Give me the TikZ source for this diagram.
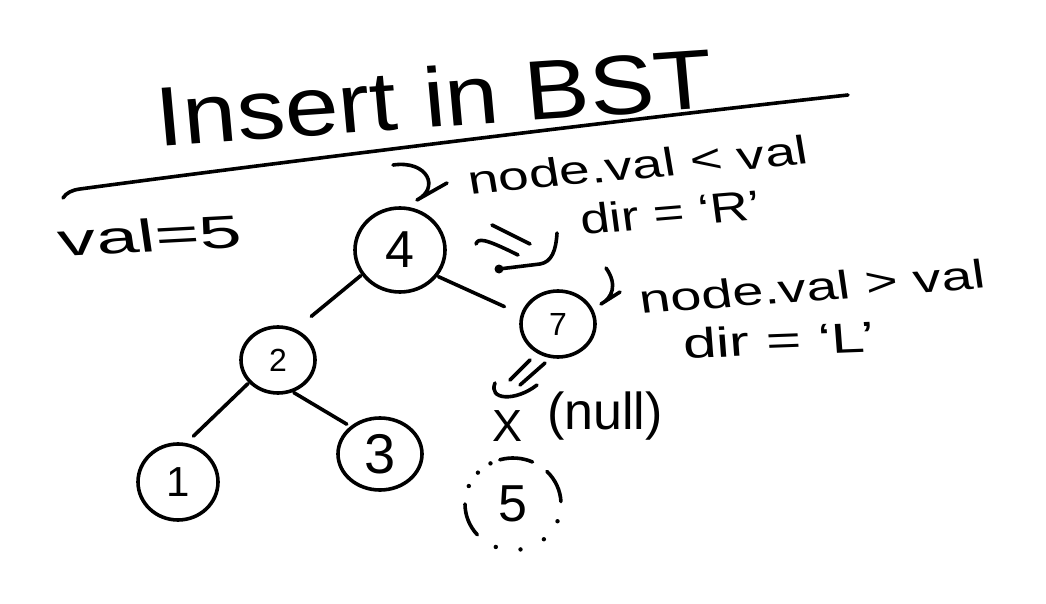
\documentclass[tikz,border=0pt]{standalone}
\usepackage{fontspec}
\setmainfont{Liberation Sans}
\usetikzlibrary{shapes.geometric}
\newcommand{\hfs}[1]{\fontsize{#1}{#1}\selectfont}
\begin{document}
\begin{tikzpicture}[x=1pt,y=-1pt, line width=3.6pt, line cap=round, line join=round,
  tnode/.style={ellipse, draw, inner sep=0pt},
  treeedge/.style={shorten <=1pt},
  lbl/.style={inner sep=0pt, anchor=base},
  dotmark/.style={fill, radius=2.2pt}]
\useasboundingbox[fill=white] (0,0) rectangle (1046,604);

% title and rule
\node[lbl, font=\hfs{84}, xscale=1.15, rotate=4.5] (title) at (437,127) {Insert in BST};
\draw (63,198) .. controls (66,193) and (72,190) .. (80,189)
      .. controls (235,168) and (620,120) .. (848,95);

% value to insert
\node[lbl, font=\hfs{46}, xscale=1.65, rotate=5] (v) at (152,252) {val=5};

% tree nodes
\node[tnode, minimum width=90pt, minimum height=84pt, font=\hfs{52}] (n4) at (400,250) {4};
\node[tnode, minimum width=74pt, minimum height=66pt, font=\hfs{32}] (n2) at (278,360) {2};
\node[tnode, minimum width=80pt, minimum height=76pt, font=\hfs{42}] (n1) at (178,482) {1};
\node[tnode, minimum width=84pt, minimum height=72pt, font=\hfs{56}] (n3) at (380,454) {3};
\node[tnode, minimum width=74pt, minimum height=66pt, font=\hfs{32}] (n7) at (558,324) {7};
\node[ellipse, inner sep=0pt, minimum width=96pt, minimum height=92pt, font=\hfs{52}] (n5) at (513,504) {5};

% dotted outline of the new node 5 (angles clockwise from east on the page)
\draw ([shift={(-45:48 and 46)}]n5.center) arc[start angle=-45, end angle=-3, x radius=48, y radius=46];
\draw ([shift={(-106:48 and 46)}]n5.center) arc[start angle=-106, end angle=-66, x radius=48, y radius=46];
\draw ([shift={(138:48 and 46)}]n5.center) arc[start angle=138, end angle=180, x radius=48, y radius=46];
\foreach \a in {-118,-137,-157,111,81,50,22}
  \fill ([shift={(\a:48 and 46)}]n5.center) circle (2.2pt);

% tree edges
\draw[treeedge, shorten >=20pt] (n4.213) -- (n2.60);
\draw[treeedge, shorten >=18pt] (n4.325) -- (n7.165);
\draw[treeedge, shorten >=10pt] (n2.218) -- (n1.78);
\draw[treeedge, shorten >=4pt] (n2.295) -- (n3.137);

% annotations
\node[lbl, font=\hfs{40}, xscale=1.38, rotate=7] (c1) at (640,179) {node.val < val};
\node[lbl, font=\hfs{42}, xscale=1.26, rotate=6] (d1) at (672,227) {dir = ‘R’};
\node[lbl, font=\hfs{40}, xscale=1.4, rotate=6] (c2) at (814,301) {node.val > val};
\node[lbl, font=\hfs{42}, xscale=1.43, rotate=3] (d2) at (780,355) {dir = ‘L’};
\node[font=\hfs{45}, inner sep=0pt] (x) at (507,426) {X};
\node[font=\hfs{52}, inner sep=0pt] (null) at (605,416) {(null)};

% hand-drawn arrows
\draw (393,165) .. controls (428,160) and (440,188) .. (417,200) -- (447,183);
\draw (606,268) .. controls (618,285) and (612,298) .. (601,304) -- (620,292);
\draw (476,244) .. controls (478,238) and (484,238) .. (518,255);
\draw (492,225) -- (530,244);
\draw (499,269) -- (540,264) .. controls (552,262) and (556,250) .. (557,233);
\fill (499,269) circle (4.5pt);
\draw (510,380) -- (530,360);
\draw (520,385) -- (545,363);
\draw (495,383) .. controls (488,400) and (515,402) .. (537,385);
\end{tikzpicture}
\end{document}
